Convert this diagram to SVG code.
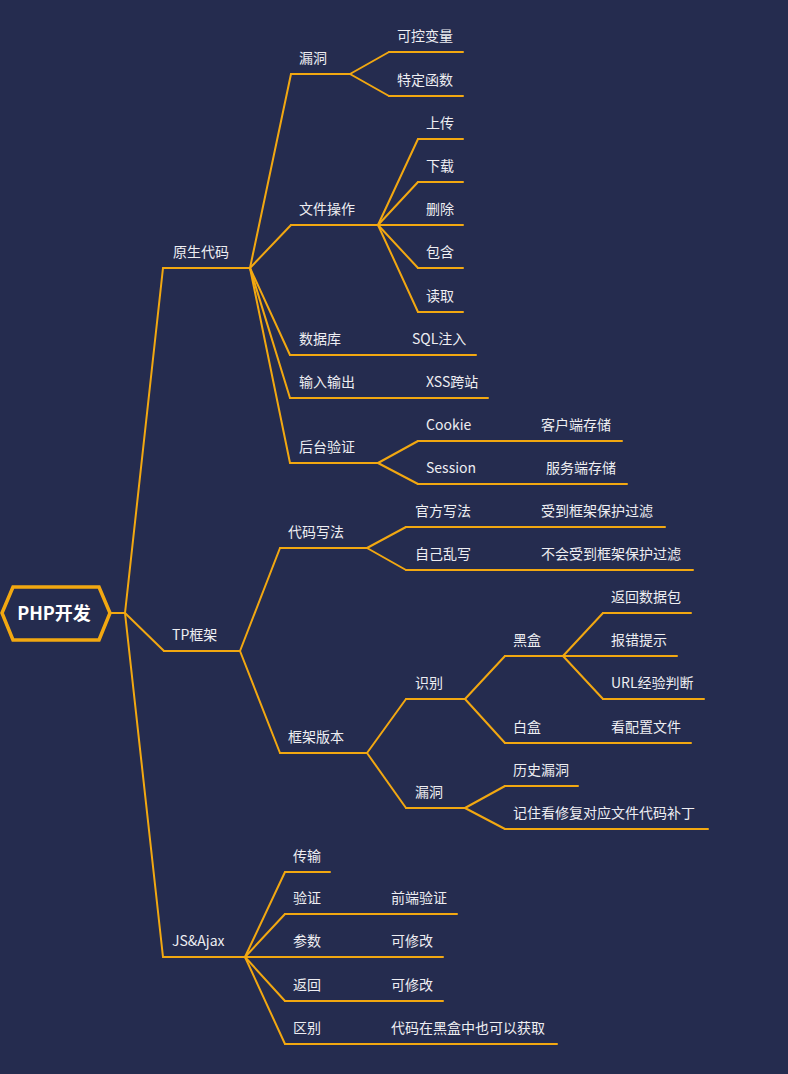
<svg xmlns="http://www.w3.org/2000/svg" width="788" height="1074" viewBox="0 0 788 1074">
<style>
.bg{fill:#252c4f}
.ln{fill:none;stroke:#f2a811;stroke-width:2;stroke-linejoin:round;stroke-linecap:round}
.t{fill:#eeeef2;font-family:"Noto Sans CJK SC","Noto Sans",sans-serif;font-size:14px}
.root{fill:#ffffff;font-family:"Noto Sans CJK SC","Noto Sans",sans-serif;font-size:18px;font-weight:bold}
</style>
<rect class="bg" x="0" y="0" width="788" height="1074"/>
<g id="connectors" class="ln">
<path d="M110 613 H125"/>
<path d="M125 613 L163 268"/>
<path d="M125 613 L164 651"/>
<path d="M125 613 L163 957"/>
<path d="M250 268 L291 74"/>
<path d="M250 268 L291 225"/>
<path d="M250 268 L290 355"/>
<path d="M250 268 L290 398"/>
<path d="M250 268 L290 463"/>
<path d="M350 74 L389 52"/>
<path d="M350 74 L389 96"/>
<path d="M378 225 L418 139"/>
<path d="M378 225 L418 182"/>
<path d="M378 225 L418 268"/>
<path d="M378 225 L418 312"/>
<path d="M378 463 L418 441"/>
<path d="M378 463 L418 484"/>
<path d="M240 651 L280 548"/>
<path d="M240 651 L280 753"/>
<path d="M367 548 L406 527"/>
<path d="M367 548 L406 570"/>
<path d="M367 753 L406 699"/>
<path d="M367 753 L406 808"/>
<path d="M465 699 L505 656"/>
<path d="M465 699 L505 743"/>
<path d="M563 656 L603 613"/>
<path d="M563 656 L603 699"/>
<path d="M465 808 L505 786"/>
<path d="M465 808 L505 829"/>
<path d="M245 957 L285 872"/>
<path d="M245 957 L285 914"/>
<path d="M245 957 L285 1001"/>
<path d="M245 957 L285 1044"/>
</g>
<g id="root">
<polygon points="2,613 13,587 99,587 110,613 99,640 13,640" fill="#252c4f" stroke="#f2a811" stroke-width="3.5" stroke-linejoin="miter"/>
<text class="root" x="54" y="620" text-anchor="middle">PHP开发</text>
</g>
<g id="n-yuansheng"><path class="ln" d="M163 268 H250"/><text class="t" x="173" y="257">原生代码</text></g>
<g id="n-loudong1"><path class="ln" d="M291 74 H350"/><text class="t" x="299" y="63">漏洞</text></g>
<g id="n-kekong"><path class="ln" d="M389 52 H463"/><text class="t" x="397" y="41">可控变量</text></g>
<g id="n-teding"><path class="ln" d="M389 96 H463"/><text class="t" x="397" y="85">特定函数</text></g>
<g id="n-wenjian"><path class="ln" d="M291 225 H378"/><text class="t" x="299" y="214">文件操作</text></g>
<g id="n-shangchuan"><path class="ln" d="M418 139 H463"/><text class="t" x="426" y="128">上传</text></g>
<g id="n-xiazai"><path class="ln" d="M418 182 H463"/><text class="t" x="426" y="171">下载</text></g>
<g id="n-shanchu"><path class="ln" d="M378 225 H463"/><text class="t" x="426" y="214">删除</text></g>
<g id="n-baohan"><path class="ln" d="M418 268 H463"/><text class="t" x="426" y="257">包含</text></g>
<g id="n-duqu"><path class="ln" d="M418 312 H463"/><text class="t" x="426" y="301">读取</text></g>
<g id="n-shujuku"><path class="ln" d="M290 355 H476"/><text class="t" x="299" y="344">数据库</text><text class="t" x="412" y="344">SQL注入</text></g>
<g id="n-shuru"><path class="ln" d="M290 398 H488"/><text class="t" x="299" y="387">输入输出</text><text class="t" x="426" y="387">XSS跨站</text></g>
<g id="n-houtai"><path class="ln" d="M290 463 H378"/><text class="t" x="299" y="452">后台验证</text></g>
<g id="n-cookie"><path class="ln" d="M418 441 H622"/><text class="t" x="426" y="430">Cookie</text><text class="t" x="541" y="430">客户端存储</text></g>
<g id="n-session"><path class="ln" d="M418 484 H627"/><text class="t" x="426" y="473">Session</text><text class="t" x="546" y="473">服务端存储</text></g>
<g id="n-tp"><path class="ln" d="M164 651 H240"/><text class="t" x="172" y="640">TP框架</text></g>
<g id="n-daima"><path class="ln" d="M280 548 H367"/><text class="t" x="288" y="537">代码写法</text></g>
<g id="n-guanfang"><path class="ln" d="M406 527 H665"/><text class="t" x="415" y="516">官方写法</text><text class="t" x="541" y="516">受到框架保护过滤</text></g>
<g id="n-ziji"><path class="ln" d="M406 570 H693"/><text class="t" x="415" y="559">自己乱写</text><text class="t" x="541" y="559">不会受到框架保护过滤</text></g>
<g id="n-banben"><path class="ln" d="M280 753 H367"/><text class="t" x="288" y="742">框架版本</text></g>
<g id="n-shibie"><path class="ln" d="M406 699 H465"/><text class="t" x="415" y="688">识别</text></g>
<g id="n-heihe"><path class="ln" d="M505 656 H563"/><text class="t" x="513" y="645">黑盒</text></g>
<g id="n-fanhui1"><path class="ln" d="M603 613 H691"/><text class="t" x="611" y="602">返回数据包</text></g>
<g id="n-baocuo"><path class="ln" d="M563 656 H677"/><text class="t" x="611" y="645">报错提示</text></g>
<g id="n-url"><path class="ln" d="M603 699 H704"/><text class="t" x="611" y="688">URL经验判断</text></g>
<g id="n-baihe"><path class="ln" d="M505 743 H691"/><text class="t" x="513" y="732">白盒</text><text class="t" x="611" y="732">看配置文件</text></g>
<g id="n-loudong2"><path class="ln" d="M406 808 H465"/><text class="t" x="415" y="797">漏洞</text></g>
<g id="n-lishi"><path class="ln" d="M505 786 H578"/><text class="t" x="513" y="775">历史漏洞</text></g>
<g id="n-jizhu"><path class="ln" d="M505 829 H708"/><text class="t" x="513" y="818">记住看修复对应文件代码补丁</text></g>
<g id="n-js"><path class="ln" d="M163 957 H245"/><text class="t" x="172" y="946">JS&amp;Ajax</text></g>
<g id="n-chuanshu"><path class="ln" d="M285 872 H330"/><text class="t" x="293" y="861">传输</text></g>
<g id="n-yanzheng"><path class="ln" d="M285 914 H457"/><text class="t" x="293" y="903">验证</text><text class="t" x="391" y="903">前端验证</text></g>
<g id="n-canshu"><path class="ln" d="M245 957 H443"/><text class="t" x="293" y="946">参数</text><text class="t" x="391" y="946">可修改</text></g>
<g id="n-fanhui2"><path class="ln" d="M285 1001 H443"/><text class="t" x="293" y="990">返回</text><text class="t" x="391" y="990">可修改</text></g>
<g id="n-qubie"><path class="ln" d="M285 1044 H557"/><text class="t" x="293" y="1033">区别</text><text class="t" x="391" y="1033">代码在黑盒中也可以获取</text></g>
</svg>
